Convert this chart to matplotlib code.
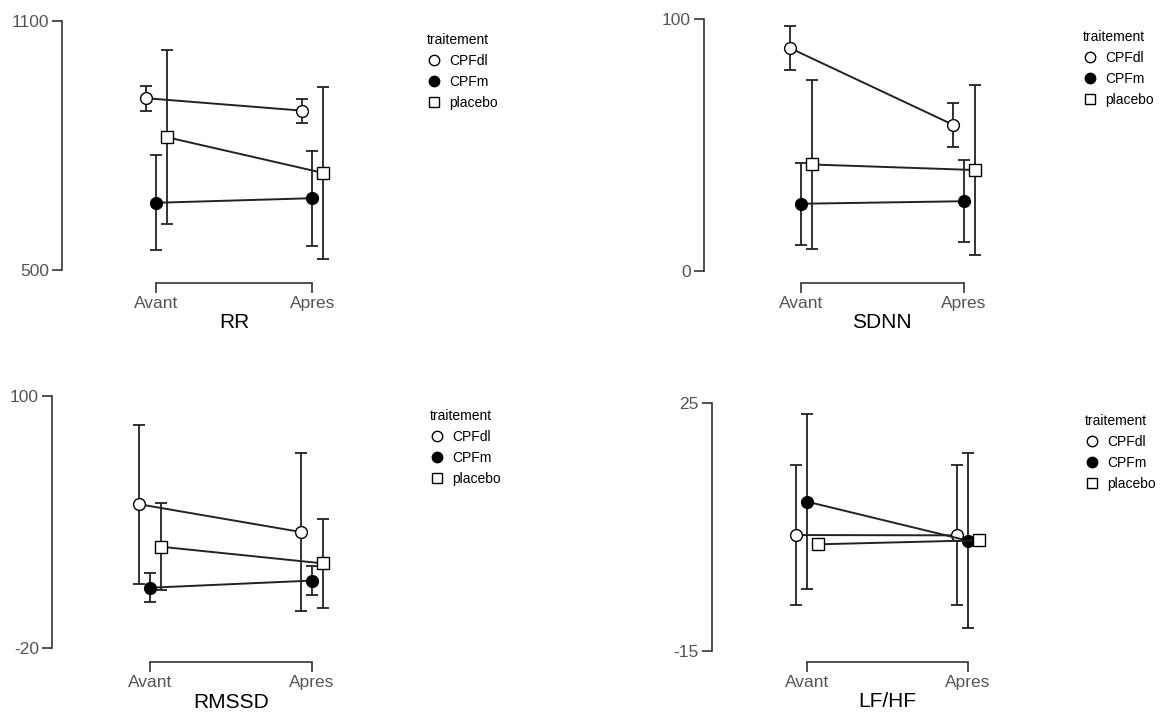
import numpy as np
import matplotlib.pyplot as plt
from matplotlib.lines import Line2D

plt.rcParams['font.family'] = ['Liberation Sans', 'DejaVu Sans']
plt.rcParams['axes.unicode_minus'] = False

W, H = 1165, 714

temps = ['Avant', 'Apres']
groupes = ['CPFdl', 'CPFm', 'placebo']

# moyennes et demi-largeurs des barres d'erreur (Avant, Apres) par groupe
rr_moy = {'CPFdl': [914, 884], 'CPFm': [662, 673], 'placebo': [820, 734]}
rr_err = {'CPFdl': [30, 29], 'CPFm': [114, 114], 'placebo': [209, 208]}

sdnn_moy = {'CPFdl': [88.4, 58.0], 'CPFm': [26.6, 27.6], 'placebo': [42.2, 40.0]}
sdnn_err = {'CPFdl': [8.8, 8.8], 'CPFm': [16.2, 16.2], 'placebo': [33.6, 33.7]}

rmssd_moy = {'CPFdl': [48.5, 35.3], 'CPFm': [8.8, 12.2], 'placebo': [28.3, 20.4]}
rmssd_err = {'CPFdl': [37.8, 37.7], 'CPFm': [7.0, 7.0], 'placebo': [20.8, 21.0]}

lfhf_moy = {'CPFdl': [3.7, 3.65], 'CPFm': [9.1, 2.8], 'placebo': [2.2, 2.85]}
lfhf_err = {'CPFdl': [11.25, 11.3], 'CPFm': [14.2, 14.15], 'placebo': [None, None]}

styles = {
    'CPFdl': dict(marker='o', mfc='white', mec='black'),
    'CPFm': dict(marker='o', mfc='black', mec='black'),
    'placebo': dict(marker='s', mfc='white', mec='black'),
}
decalage = {'CPFdl': -0.066, 'CPFm': 0.0, 'placebo': 0.068}

# (titre, moyennes, erreurs, ylim, spine x, y haut, y bas, x Avant, x Apres, y axe x, y label, legende x, legende y)
panneaux = [
    ('RR', rr_moy, rr_err, (500, 1100), 62, 21, 270, 156.3, 312.3, 283, 322, 427, 33),
    ('SDNN', sdnn_moy, sdnn_err, (0, 100), 704, 19, 270.7, 801, 963.7, 283, 323, 1083, 30),
    ('RMSSD', rmssd_moy, rmssd_err, (-20, 100), 52.3, 396, 648.3, 150, 311.7, 661.7, 702.7, 430, 409),
    ('LF/HF', lfhf_moy, lfhf_err, (-15, 25), 711.7, 403.3, 650.7, 807, 967.7, 662.3, 701.7, 1085, 414),
]

fig = plt.figure(figsize=(W / 100, H / 100), dpi=100)

for (titre, moy, err, ylim, sx, yt, yb, xa, xb, yaxe, ylab, lx, ly) in panneaux:
    d = xb - xa
    right = xb + 0.3 * d
    ax = fig.add_axes([sx / W, 1 - yb / H, (right - sx) / W, (yb - yt) / H])
    ax.set_xlim((sx - xa) / d, (right - xa) / d)
    ax.set_ylim(*ylim)

    x = np.arange(len(temps))
    for g in groupes:
        xs = x + decalage[g]
        e = err[g]
        if e[0] is not None:
            ax.errorbar(xs, moy[g], yerr=e, fmt='none', ecolor='#222222',
                        elinewidth=1.3, capsize=4, capthick=1.3, zorder=2)
        ax.plot(xs, moy[g], color='#222222', lw=1.4, ms=8.5, mew=1.0,
                zorder=3, **styles[g])

    for s in ['top', 'right']:
        ax.spines[s].set_visible(False)
    ax.spines['left'].set_bounds(*ylim)
    ax.spines['bottom'].set_bounds(0, 1)
    ax.spines['bottom'].set_position(('outward', (yaxe - yb) * 0.72))
    for s in ['left', 'bottom']:
        ax.spines[s].set_color('#333333')
        ax.spines[s].set_linewidth(1.2)
    ax.set_yticks(list(ylim))
    ax.set_xticks(x)
    ax.set_xticklabels(temps)
    ax.tick_params(axis='both', direction='out', length=7.5, width=1.2,
                   color='#333333', labelcolor='#555555', labelsize=12.5, pad=2)
    ax.text(0.5, 1 - (ylab - yt) / (yb - yt), titre, fontsize=15,
            ha='center', va='center',
            transform=ax.get_xaxis_transform())

    poignees = [Line2D([], [], ls='none', ms=7.5, mew=1.0, **styles[g]) for g in groupes]
    fig.legend(poignees, groupes, title='traitement', loc='upper left',
               bbox_to_anchor=(lx / W, 1 - ly / H), frameon=False,
               fontsize=10, title_fontsize=10, alignment='left',
               handlelength=1.0, handletextpad=0.6, labelspacing=0.5,
               borderpad=0, borderaxespad=0)

fig.savefig('out.png', dpi=100)
